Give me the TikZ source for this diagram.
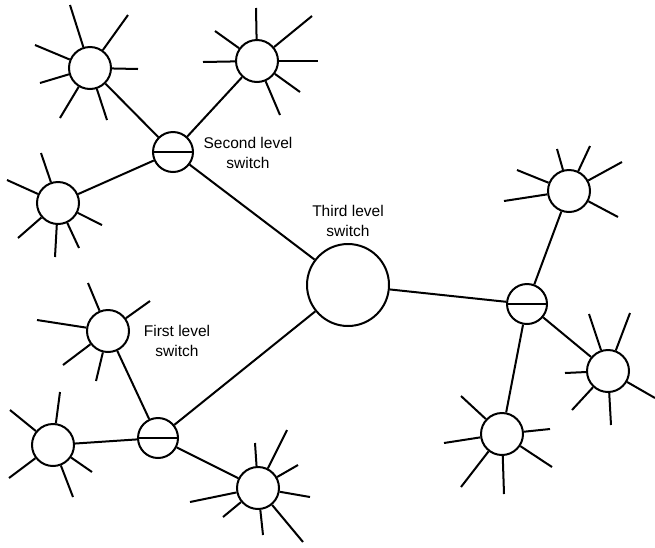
\documentclass[tikz,border=0pt]{standalone}
\usepackage{fontspec}
\setmainfont{Liberation Sans}
\begin{document}
\begin{tikzpicture}[x=1pt,y=-1pt,line width=2pt,
  leaf/.style={circle,draw,inner sep=0pt,minimum size=42pt},
  sw/.style={circle,draw,inner sep=0pt,minimum size=40pt},
  big/.style={circle,draw,inner sep=0pt,minimum size=82pt},
  lbl/.style={align=center,font=\fontsize{15.5}{20}\selectfont,inner sep=0pt}]
\useasboundingbox (0,0) rectangle (655,547);
% switches
\node[sw] (S2) at (173,152) {};
\node[big] (T) at (348,285) {};
\node[sw] (S2R) at (527,304) {};
\node[sw] (S1) at (158,438) {};
\foreach \s in {S2,S2R,S1} \draw (\s.west) -- (\s.east);
% leaf circles
\node[leaf] (A) at (90,68) {};
\node[leaf] (B) at (257,61) {};
\node[leaf] (C) at (58,203) {};
\node[leaf] (D) at (569,191) {};
\node[leaf] (E) at (608,371) {};
\node[leaf] (F) at (502,434) {};
\node[leaf] (G) at (108,331) {};
\node[leaf] (H) at (53,445) {};
\node[leaf] (I) at (258,488) {};
% links
\draw (A) -- (S2);
\draw (B) -- (S2);
\draw (C) -- (S2);
\draw (S2) -- (T);
\draw (T) -- (S2R);
\draw (D) -- (S2R);
\draw (E) -- (S2R);
\draw (F) -- (S2R);
\draw (S1) -- (T);
\draw (G) -- (S1);
\draw (H) -- (S1);
\draw (I) -- (S1);
% spokes
\foreach \p in {(70,5),(128,15),(35,45),(138,69),(40,83),(60,118),(107,120)} \draw (A) -- \p;
\foreach \p in {(256,8),(312,16),(215,31),(203,62),(318,61),(300,92),(280,115)} \draw (B) -- \p;
\foreach \p in {(41,153),(7,180),(18,238),(55,257),(79,248),(102,225)} \draw (C) -- \p;
\foreach \p in {(557,149),(590,146),(622,162),(618,217),(504,201),(517,170)} \draw (D) -- \p;
\foreach \p in {(589,314),(630,313),(655,398),(611,425),(572,410),(565,373)} \draw (E) -- \p;
\foreach \p in {(461,396),(444,443),(461,487),(504,494),(552,467),(550,429)} \draw (F) -- \p;
\foreach \p in {(88,283),(37,320),(150,301),(63,365),(96,381)} \draw (G) -- \p;
\foreach \p in {(60,392),(10,410),(9,478),(73,497),(92,472)} \draw (H) -- \p;
\foreach \p in {(255,443),(287,430),(298,465),(310,497),(303,542),(263,535),(223,517),(190,502)} \draw (I) -- \p;
% labels
\node[lbl] (L2) at (248,153) {Second level\\switch};
\node[lbl] (L3) at (348,221) {Third level\\switch};
\node[lbl] (L1) at (177,341) {First level\\switch};
\end{tikzpicture}
\end{document}
